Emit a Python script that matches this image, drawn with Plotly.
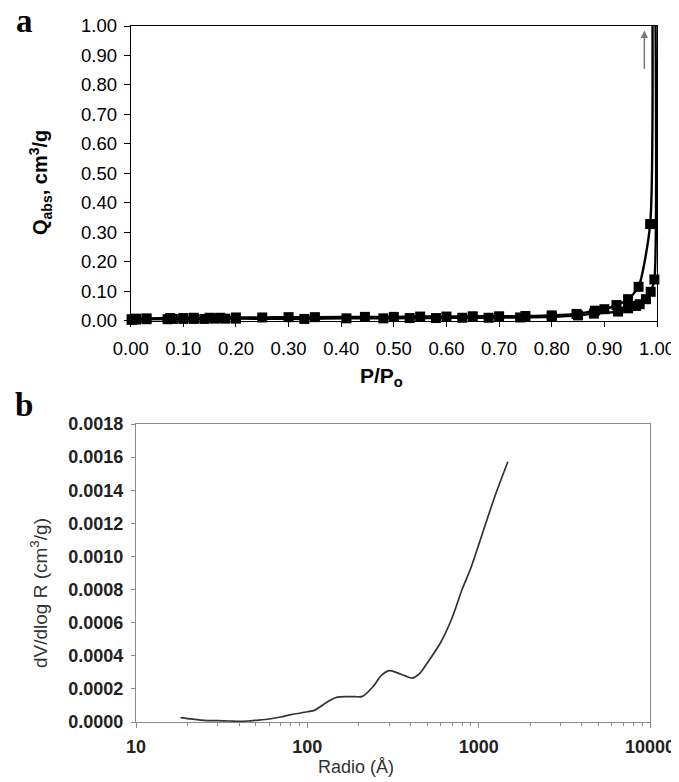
import plotly.graph_objects as go
from plotly.subplots import make_subplots

# la pagina tiene 8 px de margen en el body, se descuentan aqui
OFF = 8
W, H = 679 - OFF, 782 - OFF

# --- Panel a: isoterma (rama de adsorcion y desorcion) ---
ads_x = [0.002, 0.01, 0.03, 0.07, 0.08, 0.10, 0.12, 0.14, 0.16, 0.18, 0.20, 0.33,
         0.41, 0.48, 0.53, 0.58, 0.63, 0.68, 0.74, 0.80, 0.85, 0.88, 0.926, 0.945,
         0.96, 0.967, 0.979, 0.988, 0.995, 0.995]
ads_y = [0.003, 0.004, 0.005, 0.005, 0.006, 0.006, 0.006, 0.006, 0.007, 0.007, 0.007, 0.006,
         0.008, 0.008, 0.009, 0.009, 0.010, 0.010, 0.011, 0.013, 0.018, 0.024, 0.031, 0.042,
         0.050, 0.056, 0.073, 0.098, 0.140, 1.5]

des_x = [0.99, 0.987, 0.965, 0.945, 0.923, 0.90, 0.882, 0.847, 0.80, 0.75, 0.70, 0.65,
         0.60, 0.55, 0.50, 0.445, 0.35, 0.30, 0.25, 0.20, 0.17, 0.15, 0.12, 0.10,
         0.075, 0.03, 0.01, 0.002]
des_y = [1.5, 0.328, 0.115, 0.073, 0.053, 0.039, 0.034, 0.023, 0.018, 0.016, 0.015, 0.015,
         0.014, 0.014, 0.013, 0.013, 0.012, 0.012, 0.011, 0.011, 0.010, 0.010, 0.010, 0.009,
         0.009, 0.008, 0.007, 0.005]

# --- Panel b: distribucion de tamano de poro ---
radio = [18.2, 20, 25, 30, 35, 40, 45, 50, 60, 70, 80, 90, 100, 110, 120, 135, 150, 170,
         190, 210, 240, 270, 300, 330, 370, 410, 450, 500, 600, 700, 800, 900, 1000,
         1100, 1250, 1480]
dvdlogr = [0.000026, 0.000020, 0.000010, 0.000008, 0.000006, 0.000004, 0.000006, 0.000010,
           0.000018, 0.000030, 0.000045, 0.000053, 0.000062, 0.000070, 0.000095, 0.000130,
           0.000150, 0.000153, 0.000153, 0.000155, 0.000210, 0.000280, 0.000310, 0.000300,
           0.000280, 0.000265, 0.000290, 0.000355, 0.000480, 0.000630, 0.000800, 0.000930,
           0.001070, 0.001200, 0.001370, 0.001572]


def px_x(p):
    return (p - OFF) / W


def px_y(p):
    return 1 - (p - OFF) / H


fig = make_subplots(rows=2, cols=1)

for xs, ys in [(ads_x, ads_y), (des_x, des_y)]:
    # el punto fuera de escala solo sirve para la linea vertical
    sizes = [0 if v > 1 else 10 for v in ys]
    fig.add_trace(go.Scatter(
        x=xs, y=ys,
        mode='lines+markers',
        line=dict(color='black', width=2.4, shape='spline', smoothing=0.6),
        marker=dict(symbol='square', size=sizes, color='black', opacity=1, line=dict(width=0)),
        cliponaxis=False,
        showlegend=False
    ), row=1, col=1)

fig.add_trace(go.Scatter(
    x=radio, y=dvdlogr,
    mode='lines',
    line=dict(color='#333333', width=1.7, shape='spline', smoothing=0.8),
    showlegend=False
), row=2, col=1)

fuente = 'Liberation Sans, Arial, sans-serif'

fig.update_xaxes(
    domain=[px_x(130.7), px_x(657)],
    range=[0, 1], dtick=0.1, tickformat='.2f',
    showgrid=False, zeroline=False, automargin=False,
    showline=True, linecolor='black', linewidth=1, mirror=True,
    ticks='outside', ticklen=5, tickcolor='black', ticklabelstandoff=6,
    tickfont=dict(family=fuente, size=18.5, color='black'),
    row=1, col=1
)
fig.update_yaxes(
    domain=[px_y(320.7), px_y(26)],
    range=[0, 1], dtick=0.1, tickformat='.2f',
    showgrid=False, zeroline=False, automargin=False,
    showline=True, linecolor='black', linewidth=1, mirror=True,
    ticks='outside', ticklen=6, tickcolor='black', ticklabelstandoff=3,
    tickfont=dict(family=fuente, size=18.5, color='black'),
    row=1, col=1
)

minor_vals = [m * 10 ** d for d in range(1, 4) for m in range(2, 10)]
fig.update_xaxes(
    domain=[px_x(136), px_x(650)],
    type='log', range=[1, 4],
    tickvals=[10, 100, 1000, 10000], ticktext=['10', '100', '1000', '10000'],
    showgrid=False, zeroline=False, automargin=False,
    showline=True, linecolor='#8a8a8a', linewidth=1.3, mirror=True,
    ticks='outside', ticklen=5, tickcolor='#8a8a8a', ticklabelstandoff=3,
    minor=dict(tickmode='array', tickvals=minor_vals, ticks='outside', ticklen=3,
               tickcolor='#8a8a8a', showgrid=False),
    tickfont=dict(family=fuente, size=18, color='#222222', weight='bold'),
    row=2, col=1
)
fig.update_yaxes(
    domain=[px_y(722), px_y(424)],
    range=[0, 0.0018], dtick=0.0002, tickformat='.4f',
    showgrid=False, zeroline=False, automargin=False,
    showline=True, linecolor='#8a8a8a', linewidth=1.3, mirror=True,
    ticks='outside', ticklen=4, tickcolor='#8a8a8a', ticklabelstandoff=4,
    tickfont=dict(family=fuente, size=18, color='#222222', weight='bold'),
    row=2, col=1
)

anotaciones = [
    # letras de panel
    dict(text='<b>a</b>', x=px_x(24), y=px_y(21), font=dict(family='Liberation Serif, Times New Roman, serif', size=33, color='black')),
    dict(text='<b>b</b>', x=px_x(24), y=px_y(405), font=dict(family='Liberation Serif, Times New Roman, serif', size=33, color='black')),
    # titulos de ejes
    dict(text='<b>Q<sub>abs</sub>, cm<sup>3</sup>/g</b>', x=px_x(40), y=px_y(183), textangle=-90,
         font=dict(family=fuente, size=20, color='black')),
    dict(text='<b>P/P<sub>o</sub></b>', x=px_x(382), y=px_y(377),
         font=dict(family=fuente, size=21, color='black')),
    dict(text='dV/dlog R (cm<sup>3</sup>/g)', x=px_x(39), y=px_y(593), textangle=-90,
         font=dict(family=fuente, size=19, color='#333333')),
    dict(text='Radio (Å)', x=px_x(356), y=px_y(767),
         font=dict(family=fuente, size=18, color='#333333')),
]
for a in anotaciones:
    fig.add_annotation(xref='paper', yref='paper', showarrow=False,
                       xanchor='center', yanchor='middle', **a)

# flecha indicando la subida
fig.add_annotation(
    x=0.976, y=0.985, ax=0.976, ay=0.85,
    xref='x', yref='y', axref='x', ayref='y',
    text='', showarrow=True, arrowhead=2, arrowsize=1, arrowwidth=1.5,
    arrowcolor='#777777'
)

fig.update_layout(
    width=W, height=H,
    margin=dict(l=0, r=0, t=0, b=0, pad=0),
    paper_bgcolor='white', plot_bgcolor='white',
    font=dict(family=fuente)
)

fig.write_html("out.html")
